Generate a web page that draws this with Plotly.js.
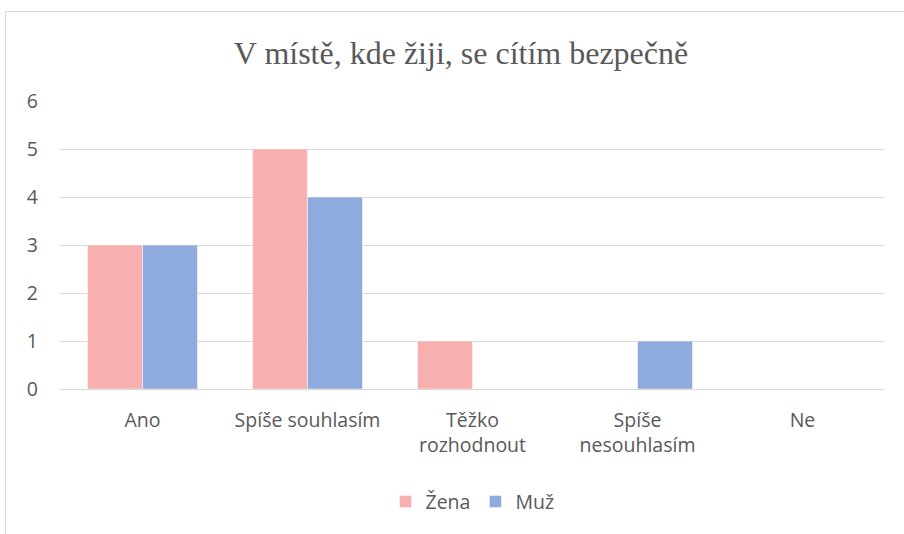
<!DOCTYPE html>
<html>
<head>
<meta charset="utf-8">
<script src="https://cdn.plot.ly/plotly-3.0.1.min.js"></script>
<style>
html,body{margin:0;padding:0;background:#fff;overflow:hidden;}
#frame{position:absolute;left:5px;top:11px;width:960px;height:600px;border:1px solid #d9d9d9;box-sizing:border-box;}
#chart{position:absolute;left:0;top:0;width:904px;height:534px;}
</style>
</head>
<body>
<div id="frame"></div>
<div id="chart"></div>
<script>
const categories = ["Ano", "Spíše souhlasím", "Těžko<br>rozhodnout", "Spíše<br>nesouhlasím", "Ne"];
const zena = [3, 5, 1, 0, 0];
const muz = [3, 4, 0, 1, 0];
const yTicks = [0, 1, 2, 3, 4, 5, 6];

const lblFont = {family: "'Open Sans', Lato, sans-serif", size: 19.5, color: "#595959"};

const data = [
  {type: "bar", name: "Žena", x: categories, y: zena,
   marker: {color: "#F7AFAF", line: {color: "#ffffff", width: 0.5}}},
  {type: "bar", name: "Muž", x: categories, y: muz,
   marker: {color: "#8FAADC", line: {color: "#ffffff", width: 0.5}}}
];

const layout = {
  width: 904, height: 534,
  paper_bgcolor: "rgba(0,0,0,0)", plot_bgcolor: "rgba(0,0,0,0)",
  margin: {l: 60, r: 19, t: 101, b: 145},
  barmode: "group", bargap: 0.3333, bargroupgap: 0,
  title: {text: "V místě, kde žiji, se cítím bezpečně",
          font: {family: "'Liberation Serif', 'Times New Roman', serif", size: 32, color: "#595959"},
          x: 0.51, xanchor: "center", y: 0.902, yanchor: "middle"},
  xaxis: {tickfont: lblFont, showgrid: false, zeroline: false, showline: false, ticks: "", ticklabelstandoff: 17},
  yaxis: {range: [0, 6], tickvals: yTicks, tickfont: lblFont, gridcolor: "#d9d9d9", gridwidth: 1,
          zeroline: true, zerolinecolor: "#d9d9d9", zerolinewidth: 1, showline: false, ticks: "",
          ticklabelstandoff: 21},
  showlegend: true,
  legend: {orientation: "h", x: 0.5, xanchor: "center", y: -0.392, yanchor: "middle",
           font: lblFont, itemwidth: 30, traceorder: "normal"},
  font: lblFont
};

Plotly.newPlot("chart", data, layout, {displayModeBar: false, staticPlot: true});
</script>
</body>
</html>
